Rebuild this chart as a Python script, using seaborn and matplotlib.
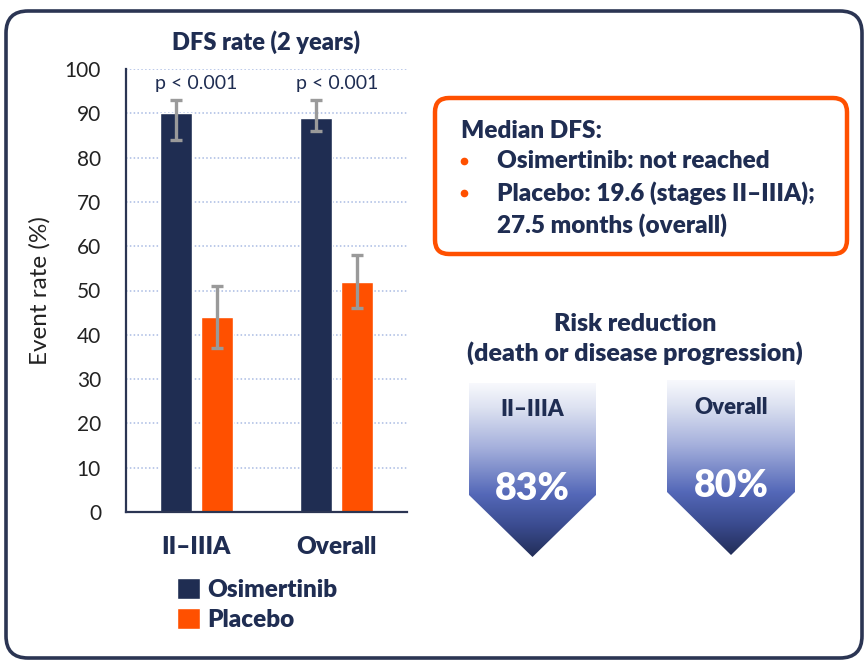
import matplotlib
matplotlib.use("Agg")

import matplotlib.pyplot as plt
import numpy as np
import pandas as pd
import seaborn as sns
from matplotlib.colors import LinearSegmentedColormap
from matplotlib.patches import FancyBboxPatch, Polygon

NAVY = "#1F2D52"
ORANGE = "#FF5000"
GRID_BLUE = "#A9BBE3"
BOLD = "heavy"

# chart data
STAGES = ["II–IIIA", "Overall"]
ARMS = ["Osimertinib", "Placebo"]
DFS_OSI = [90, 89]
DFS_PBO = [44, 52]
CI_LOW_OSI = [84, 86]
CI_HIGH_OSI = [93, 93]
CI_LOW_PBO = [37, 46]
CI_HIGH_PBO = [51, 58]
P_VALUES = ["p < 0.001", "p < 0.001"]
Y_TICKS = list(range(0, 101, 10))

MEDIAN_TITLE = "Median DFS:"
MEDIAN_BULLETS = [["Osimertinib: not reached"],
                  ["Placebo: 19.6 (stages II–IIIA);", "27.5 months (overall)"]]
RISK_TITLE = "Risk reduction\n(death or disease progression)"
RISK_GROUPS = ["II–IIIA", "Overall"]
RISK_REDUCTION = [83, 80]

W, H = 868, 662


def draw_arrow(bg, x0, x1, top, shoulder, tip, cmap):
    xm = (x0 + x1) / 2
    shape = Polygon([(x0, top), (x1, top), (x1, shoulder), (xm, tip), (x0, shoulder)],
                    closed=True, facecolor="none", edgecolor="none")
    bg.add_patch(shape)
    grad = np.linspace(0, 1, 256).reshape(-1, 1)
    img = bg.imshow(grad, cmap=cmap, extent=(x0, x1, tip, top), origin="upper",
                    aspect="auto", interpolation="bicubic", zorder=1)
    img.set_clip_path(shape)
    return xm


def main() -> None:
    sns.set_theme(style="white")
    plt.rcParams["font.family"] = ["Lato", "DejaVu Sans"]
    plt.rcParams["text.color"] = NAVY

    fig = plt.figure(figsize=(W / 100, H / 100), dpi=100)

    # background layer in pixel coordinates for the slide decorations
    bg = fig.add_axes([0, 0, 1, 1], zorder=0)
    bg.set_xlim(0, W)
    bg.set_ylim(H, 0)
    bg.axis("off")
    bg.patch.set_alpha(0)

    bg.add_patch(FancyBboxPatch((6, 11), 856, 647, boxstyle="round,pad=0,rounding_size=22",
                                facecolor="none", edgecolor="#2B3553", linewidth=2.6))

    # median DFS box
    bg.add_patch(FancyBboxPatch((435, 98), 412, 156, boxstyle="round,pad=0,rounding_size=14",
                                facecolor="white", edgecolor=ORANGE, linewidth=3.2))
    bg.text(461, 131, MEDIAN_TITLE, fontsize=17.5, fontweight=BOLD, va="center")
    y = 161
    for lines in MEDIAN_BULLETS:
        bg.plot([464], [y], marker="o", markersize=4.5, color=ORANGE, linestyle="none")
        for line in lines:
            bg.text(497, y, line, fontsize=17.5, fontweight=BOLD, va="center")
            y += 32

    bg.text(635, 339, RISK_TITLE, fontsize=18, fontweight=BOLD, ha="center",
            va="center", linespacing=1.3)

    cmap = LinearSegmentedColormap.from_list(
        "risk", [(0, "#F8F9FD"), (0.14, "#DDE2F1"), (0.37, "#A5B0DC"),
                 (0.64, "#5468B8"), (0.82, "#3B4C90"), (1, "#222D58")])
    arrows = [(469, 596, 383, 495, 557), (667, 795, 380, 492, 555)]
    for (x0, x1, top, sh, tip), grp, val in zip(arrows, RISK_GROUPS, RISK_REDUCTION):
        xm = draw_arrow(bg, x0, x1, top, sh, tip, cmap)
        bg.text(xm, top + 27, grp, fontsize=16, fontweight=BOLD, ha="center", va="center", zorder=3)
        bg.text(xm, top + 106, f"{val}%", fontsize=27, fontweight=BOLD, ha="center",
                va="center", color="white", zorder=3)

    # bar chart
    ax = fig.add_axes([126 / W, 1 - 512 / H, 281 / W, 443 / H], zorder=2)
    ax.patch.set_alpha(0)
    df = pd.DataFrame({
        "stage": STAGES * 2,
        "arm": [ARMS[0]] * len(STAGES) + [ARMS[1]] * len(STAGES),
        "rate": DFS_OSI + DFS_PBO,
        "low": CI_LOW_OSI + CI_LOW_PBO,
        "high": CI_HIGH_OSI + CI_HIGH_PBO,
    })
    sns.barplot(data=df, x="stage", y="rate", hue="arm", palette=[NAVY, ORANGE],
                width=0.585, gap=0.22, saturation=1, errorbar=None, ax=ax, zorder=2)

    for container, arm in zip(ax.containers, ARMS):
        sub = df[df["arm"] == arm]
        xs = [b.get_x() + b.get_width() / 2 for b in container]
        ax.errorbar(xs, sub["rate"], yerr=[sub["rate"] - sub["low"], sub["high"] - sub["rate"]],
                    fmt="none", ecolor="#9A9A9A", elinewidth=2.4, capsize=4.5, capthick=2.4, zorder=3)

    for i, p in enumerate(P_VALUES):
        ax.text(i, 96.8, p, ha="center", va="center", fontsize=14, color=NAVY)

    ax.set_xlim(-0.5, 1.5)
    ax.set_ylim(0, 100)
    ax.set_yticks(Y_TICKS)
    ax.grid(axis="y", linestyle=(0, (1, 1.5)), color=GRID_BLUE, linewidth=1.1, zorder=0)
    ax.set_axisbelow(True)
    ax.tick_params(axis="y", length=0, labelsize=15, labelcolor="#222222", pad=18)
    ax.tick_params(axis="x", length=0, labelsize=17.5, labelcolor=NAVY, pad=17)
    for lbl in ax.get_xticklabels():
        lbl.set_fontweight(BOLD)
    ax.set_xlabel("")
    ax.set_ylabel("Event rate (%)", fontsize=17.5, color="#222222", labelpad=10)
    ax.set_title("DFS rate (2 years)", fontsize=17, fontweight=BOLD, color=NAVY, pad=14)
    sns.despine(ax=ax)
    for side in ("left", "bottom"):
        ax.spines[side].set_color("#2B3553")
        ax.spines[side].set_linewidth(1.6)

    handles, labels = ax.get_legend_handles_labels()
    ax.legend(handles, labels, loc="upper left", bbox_to_anchor=(177 / W, 1 - 578 / H),
              bbox_transform=fig.transFigure, frameon=False, labelcolor=NAVY,
              prop={"weight": BOLD, "size": 17.5}, handlelength=0.95, handleheight=0.95,
              handletextpad=0.3, labelspacing=0.3, borderaxespad=0, borderpad=0)

    fig.savefig("out.png", dpi=100)
    plt.close(fig)


if __name__ == "__main__":
    main()
